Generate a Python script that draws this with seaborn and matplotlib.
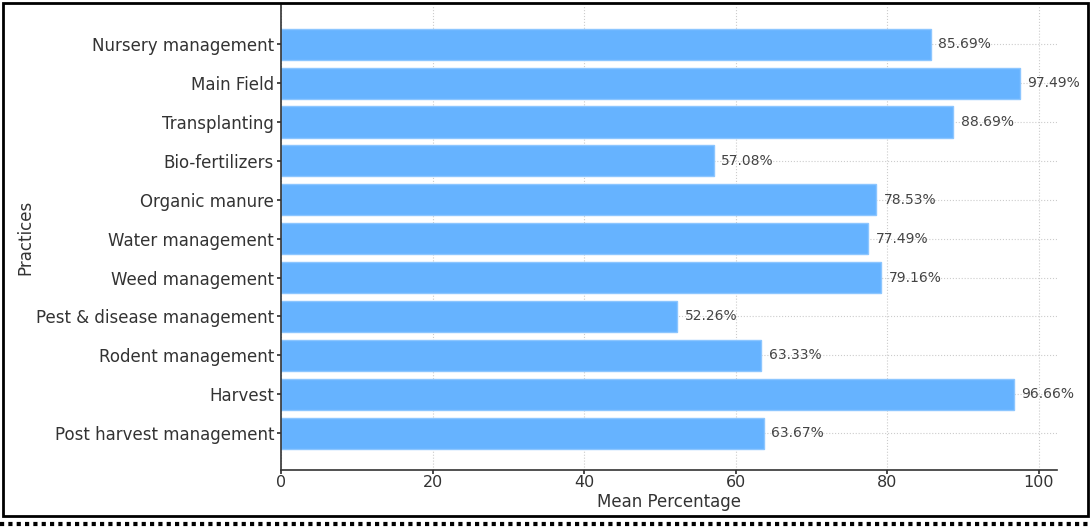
import matplotlib
matplotlib.use("Agg")
import matplotlib.pyplot as plt
import seaborn as sns
import pandas as pd
from matplotlib.lines import Line2D
from matplotlib.patches import Rectangle

practices = ["Nursery management", "Main Field", "Transplanting", "Bio-fertilizers",
             "Organic manure", "Water management", "Weed management",
             "Pest & disease management", "Rodent management", "Harvest",
             "Post harvest management"]
values = [85.69, 97.49, 88.69, 57.08, 78.53, 77.49, 79.16, 52.26, 63.33, 96.66, 63.67]

df = pd.DataFrame({"Practices": practices, "Mean Percentage": values})

sns.set_theme(style="ticks")
plt.rcParams['font.family'] = ['DejaVu Sans']

fig = plt.figure(figsize=(10.91, 5.27), dpi=100)
ax = fig.add_axes([0.2576, 0.108, 0.7114, 0.882])

sns.barplot(data=df, x="Mean Percentage", y="Practices", color="#66b3ff",
            saturation=1, width=0.8, ax=ax, orient="h")
for p in ax.patches:
    p.set_edgecolor("#8cc6ff")
    p.set_linewidth(1)

ax.set_xlim(0, 102.4)
ax.set_ylim(len(practices) - 0.05, -1.0)
ax.grid(True, linestyle=":", color="#cccccc", linewidth=0.8)
ax.set_axisbelow(True)
sns.despine(ax=ax)
for s in ["left", "bottom"]:
    ax.spines[s].set_color("#333333")
    ax.spines[s].set_linewidth(1.2)
ax.tick_params(axis="y", labelsize=12, colors="#333333", length=3, pad=2)
ax.tick_params(axis="x", labelsize=11.5, colors="#333333", length=3, pad=0.5)
ax.set_xlabel("Mean Percentage", fontsize=12, color="#333333", labelpad=2)
ax.set_ylabel("Practices", fontsize=12, color="#333333", labelpad=1)

for i, v in enumerate(values):
    ax.text(v + 1, i, f"{v:.2f}%", va="center", ha="left", fontsize=10, color="#444444")

# figure frame
fig.patches.append(Rectangle((0.003, 0.02), 0.994, 0.975, transform=fig.transFigure,
                             fill=False, edgecolor="black", linewidth=2))
fig.lines.append(Line2D([0, 1], [0.006, 0.006], transform=fig.transFigure,
                        color="black", linestyle=(0, (1, 1)), linewidth=3))

fig.savefig("out.png", dpi=100)
